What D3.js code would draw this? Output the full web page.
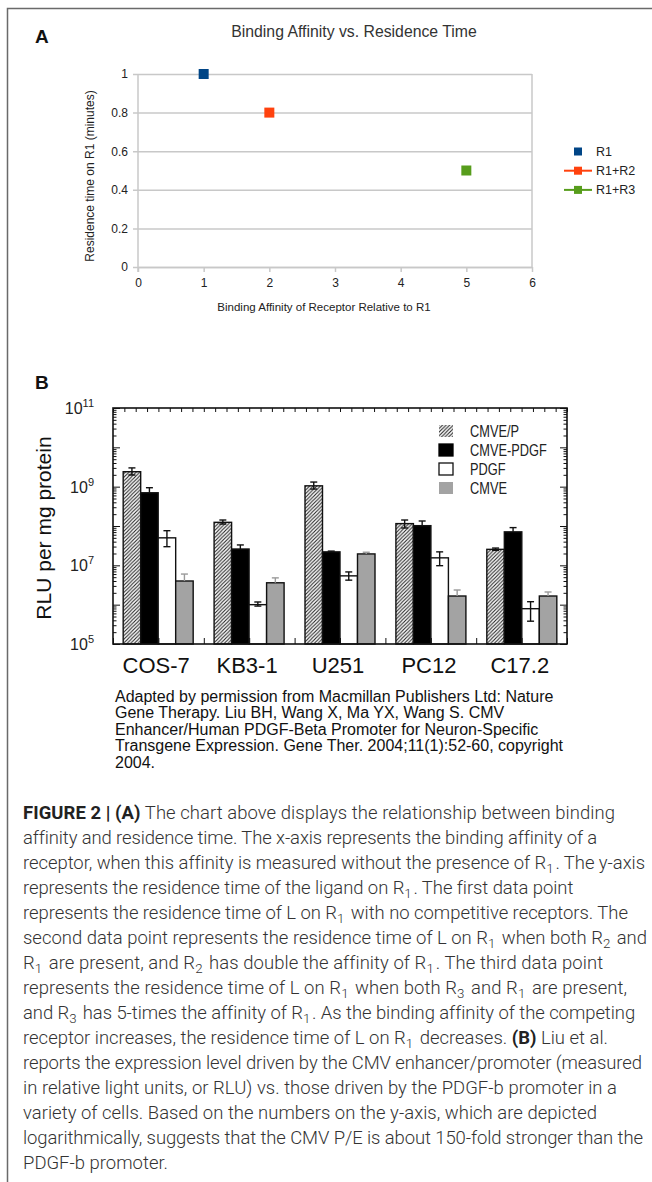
<!DOCTYPE html>
<html><head><meta charset="utf-8">
<script src="https://cdn.jsdelivr.net/npm/d3@7"></script>
<style>body{margin:0;background:#fff;} svg{display:block}</style>
</head><body>
<svg id="fig" width="652" height="1182"></svg>
<script>
// ---------- Panel A data ----------
const seriesA = ["R1", "R1+R2", "R1+R3"];
const affinityA = [1, 2, 5];
const residenceA = [1, 0.8, 0.5];
const colorsA = ["#004586", "#ff420e", "#579d1c"];
const xTicksA = [0, 1, 2, 3, 4, 5, 6];
const yTicksA = [0, 0.2, 0.4, 0.6, 0.8, 1];
const titleA = "Binding Affinity vs. Residence Time";
const xTitleA = "Binding Affinity of Receptor Relative to R1";
const yTitleA = "Residence time on R1 (minutes)";

// ---------- Panel B data ----------
const cellLines = ["COS-7", "KB3-1", "U251", "PC12", "C17.2"];
const constructs = ["CMVE/P", "CMVE-PDGF", "PDGF", "CMVE"];
const rluCMVEP     = [2.4e9, 1.24e8, 1.05e9, 1.15e8, 2.55e7];
const rluCMVEPDGF  = [7.0e8, 2.6e7, 2.2e7, 1.02e8, 7.1e7];
const rluPDGF      = [5.0e7, 1.0e6, 5.4e6, 1.55e7, 7.9e5];
const rluCMVE      = [4.0e6, 3.6e6, 1.95e7, 1.66e6, 1.66e6];
const errHiCMVEP    = [3.0e9, 1.42e8, 1.31e9, 1.42e8, 2.75e7];
const errLoCMVEP    = [1.98e9, 1.12e8, 8.7e8, 8.9e7, 2.4e7];
const errHiCMVEPDGF = [9.4e8, 3.3e7, 2.3e7, 1.34e8, 9.1e7];
const errHiPDGF     = [7.6e7, 1.17e6, 6.8e6, 2.2e7, 1.19e6];
const errLoPDGF     = [2.98e7, 9.2e5, 4.2e6, 9.8e6, 3.8e5];
const errHiCMVE     = [6.0e6, 4.8e6, 2.15e7, 2.36e6, 2.1e6];
const yTickExpB = [5, 7, 9, 11];

const sourceLines = [
  "Adapted by permission from Macmillan Publishers Ltd: Nature",
  "Gene Therapy. Liu BH, Wang X, Ma YX, Wang S. CMV",
  "Enhancer/Human PDGF-Beta Promoter for Neuron-Specific",
  "Transgene Expression. Gene Ther. 2004;11(1):52-60, copyright",
  "2004."
];
const captionLines = [
  "**FIGURE 2 | (A)** The chart above displays the relationship between binding",
  "affinity and residence time. The x-axis represents the binding affinity of a",
  "receptor, when this affinity is measured without the presence of R_1. The y-axis",
  "represents the residence time of the ligand on R_1. The first data point",
  "represents the residence time of L on R_1 with no competitive receptors. The",
  "second data point represents the residence time of L on R_1 when both R_2 and",
  "R_1 are present, and R_2 has double the affinity of R_1. The third data point",
  "represents the residence time of L on R_1 when both R_3 and R_1 are present,",
  "and R_3 has 5-times the affinity of R_1. As the binding affinity of the competing",
  "receptor increases, the residence time of L on R_1 decreases. **(B)** Liu et al.",
  "reports the expression level driven by the CMV enhancer/promoter (measured",
  "in relative light units, or RLU) vs. those driven by the PDGF-b promoter in a",
  "variety of cells. Based on the numbers on the y-axis, which are depicted",
  "logarithmically, suggests that the CMV P/E is about 150-fold stronger than the",
  "PDGF-b promoter."
];
// right edge of each caption line in the reference (layout, px)
const captionEnds = [615, 595, 644, 573, 628, 647, 602, 627, 633, 608, 642, 617, 597, 643, 168];

const svg = d3.select("#fig");
const SANS = "'Liberation Sans', Arial, sans-serif";

svg.append("path").attr("d", "M7.5,1182 V8.5 H652").attr("fill", "none")
  .attr("stroke", "#6a6a6a").attr("stroke-width", 1.5);

// ================= Panel A =================
svg.append("text").attr("x", 35).attr("y", 43).text("A")
  .attr("font-family", SANS).attr("font-weight", "bold").attr("font-size", 19).attr("fill", "#111");

const xA = d3.scaleLinear().domain([0, 6]).range([138, 532]);
const yA = d3.scaleLinear().domain([0, 1]).range([267, 74]);

svg.append("text").attr("x", 354).attr("y", 37).attr("text-anchor", "middle")
  .attr("font-family", SANS).attr("font-size", 15.8).attr("fill", "#333").text(titleA);

const gyA = svg.append("g").attr("transform", `translate(${xA(0)},0)`)
  .call(d3.axisLeft(yA).tickValues(yTicksA).tickFormat(d3.format("~g")).tickSizeInner(-(xA(6) - xA(0))).tickSizeOuter(0).tickPadding(10));
gyA.select(".domain").remove();
gyA.selectAll(".tick line").attr("stroke", "#c8c8c8").attr("stroke-width", 1.5).attr("x1", -5);
gyA.selectAll(".tick text").attr("font-family", SANS).attr("font-size", 12).attr("fill", "#222");

svg.append("line").attr("x1", xA(6)).attr("x2", xA(6)).attr("y1", yA(1)).attr("y2", yA(0))
  .attr("stroke", "#c8c8c8").attr("stroke-width", 1.5);
svg.append("line").attr("x1", xA(0)).attr("x2", xA(0)).attr("y1", yA(1)).attr("y2", yA(0) + 5)
  .attr("stroke", "#c8c8c8").attr("stroke-width", 1.5);

const gxA = svg.append("g").attr("transform", `translate(0,${yA(0)})`)
  .call(d3.axisBottom(xA).tickValues(xTicksA).tickFormat(d3.format("d")).tickSizeInner(5).tickSizeOuter(0).tickPadding(6));
gxA.select(".domain").attr("stroke", "#c8c8c8").attr("stroke-width", 1.5);
gxA.selectAll(".tick line").attr("stroke", "#c8c8c8").attr("stroke-width", 1.5);
gxA.selectAll(".tick text").attr("font-family", SANS).attr("font-size", 12).attr("fill", "#222");

svg.append("text").attr("x", 324).attr("y", 311).attr("text-anchor", "middle")
  .attr("font-family", SANS).attr("font-size", 11.5).attr("fill", "#222").text(xTitleA);
svg.append("text").attr("transform", "translate(94,176) rotate(-90)").attr("text-anchor", "middle")
  .attr("font-family", SANS).attr("font-size", 12).attr("fill", "#222").text(yTitleA);

svg.append("g").selectAll("rect").data(seriesA).join("rect")
  .attr("x", (d, i) => xA(affinityA[i]) - 5).attr("y", (d, i) => yA(residenceA[i]) - 5)
  .attr("width", 10).attr("height", 10).attr("fill", (d, i) => colorsA[i]);

const legA = svg.append("g");
seriesA.forEach((s, i) => {
  const y = 151.5 + i * 19.2;
  if (i > 0) legA.append("line").attr("x1", 564).attr("x2", 592).attr("y1", y).attr("y2", y)
    .attr("stroke", colorsA[i]).attr("stroke-width", 2);
  legA.append("rect").attr("x", 578 - 4).attr("y", y - 4).attr("width", 8).attr("height", 8).attr("fill", colorsA[i]);
  legA.append("text").attr("x", 596).attr("y", y + 4.5).attr("font-family", SANS).attr("font-size", 12.5)
    .attr("fill", "#222").text(s);
});

// ================= Panel B =================
svg.append("text").attr("x", 35).attr("y", 389).text("B")
  .attr("font-family", SANS).attr("font-weight", "bold").attr("font-size", 19).attr("fill", "#111");

const L = 113, R = 567, T = 408, Bt = 644;
const yB = d3.scaleLog().domain([1e5, 1e11]).range([Bt, T]);
const x0 = d3.scaleBand().domain(cellLines).range([L, R]).paddingInner(0.23).paddingOuter(0.112);
const x1 = d3.scaleBand().domain(constructs).range([0, x0.bandwidth()]).padding(0);

const defs = svg.append("defs");
const pat = defs.append("pattern").attr("id", "hatch").attr("patternUnits", "userSpaceOnUse")
  .attr("width", 3.6).attr("height", 3.6);
pat.append("rect").attr("width", 3.6).attr("height", 3.6).attr("fill", "#fff");
pat.append("path").attr("d", "M-0.9,0.9 L0.9,-0.9 M0,3.6 L3.6,0 M2.7,4.5 L4.5,2.7")
  .attr("stroke", "#222").attr("stroke-width", 1.1);

const fills = ["url(#hatch)", "#000", "#fff", "#a3a3a3"];
const values = [rluCMVEP, rluCMVEPDGF, rluPDGF, rluCMVE];
const errHi = [errHiCMVEP, errHiCMVEPDGF, errHiPDGF, errHiCMVE];
const errLo = [errLoCMVEP, null, errLoPDGF, null];
const errColor = ["#111", "#111", "#111", "#9a9a9a"];

const rows = [];
cellLines.forEach((c, ci) => constructs.forEach((k, ki) => rows.push({c, k, ci, ki,
  v: values[ki][ci], hi: errHi[ki][ci], lo: errLo[ki] ? errLo[ki][ci] : null})));

svg.append("g").selectAll("rect").data(rows).join("rect")
  .attr("x", d => x0(d.c) + x1(d.k)).attr("width", x1.bandwidth())
  .attr("y", d => yB(d.v)).attr("height", d => Bt - yB(d.v))
  .attr("fill", d => fills[d.ki]).attr("stroke", "#111").attr("stroke-width", 1.4);

const errG = svg.append("g");
rows.forEach(d => {
  const cx = x0(d.c) + x1(d.k) + x1.bandwidth() / 2;
  const col = errColor[d.ki];
  const lo = d.lo === null ? d.v : d.lo;
  errG.append("line").attr("x1", cx).attr("x2", cx).attr("y1", yB(d.hi)).attr("y2", yB(lo))
    .attr("stroke", col).attr("stroke-width", 1.4);
  const caps = d.lo === null ? [d.hi] : [d.hi, d.lo];
  caps.forEach(e => errG.append("line").attr("x1", cx - 3.5).attr("x2", cx + 3.5)
    .attr("y1", yB(e)).attr("y2", yB(e)).attr("stroke", col).attr("stroke-width", 1.4));
});

const majors = d3.range(5, 12).map(e => Math.pow(10, e));
const minors = [];
for (let e = 5; e < 11; e++) for (let m = 2; m <= 9; m++) minors.push(m * Math.pow(10, e));
function logAxis(xpos, dir) {
  const ax = (dir > 0 ? d3.axisRight(yB) : d3.axisLeft(yB));
  const g1 = svg.append("g").attr("transform", `translate(${xpos},0)`)
    .call(ax.tickValues(majors).tickSizeInner(7).tickSizeOuter(0).tickFormat(""));
  g1.select(".domain").remove();
  const ax2 = (dir > 0 ? d3.axisRight(yB) : d3.axisLeft(yB));
  const g2 = svg.append("g").attr("transform", `translate(${xpos},0)`)
    .call(ax2.tickValues(minors).tickSizeInner(3.5).tickSizeOuter(0).tickFormat(""));
  g2.select(".domain").remove();
  [g1, g2].forEach(g => g.selectAll("line").attr("stroke", "#111").attr("stroke-width", 1));
}
logAxis(L, 1);
logAxis(R, -1);

const xFrame = d3.scaleLinear().domain([0, 40]).range([L, R]);
const gTop = svg.append("g").attr("transform", `translate(0,${T})`)
  .call(d3.axisBottom(xFrame).ticks(40).tickSizeInner(4).tickSizeOuter(0).tickFormat(""));
gTop.select(".domain").remove();
gTop.selectAll("line").attr("stroke", "#111");
const gBot = svg.append("g").attr("transform", `translate(0,${Bt})`)
  .call(d3.axisTop(xFrame).tickValues(d3.range(0, 41, 4)).tickSizeInner(6).tickSizeOuter(0).tickFormat(""));
gBot.select(".domain").remove();
gBot.selectAll("line").attr("stroke", "#111");

svg.append("rect").attr("x", L).attr("y", T).attr("width", R - L).attr("height", Bt - T)
  .attr("fill", "none").attr("stroke", "#111").attr("stroke-width", 1.6);

yTickExpB.forEach(e => {
  const t = svg.append("text").attr("x", 94).attr("y", yB(Math.pow(10, e)) + 6).attr("text-anchor", "end")
    .attr("font-family", SANS).attr("font-size", 16).attr("fill", "#222");
  t.append("tspan").text("10");
  t.append("tspan").attr("dy", -7).attr("font-size", 11).text(String(e));
});
svg.append("text").attr("transform", `translate(51,528) rotate(-90)`).attr("text-anchor", "middle")
  .attr("font-family", SANS).attr("font-size", 21).attr("fill", "#111").text("RLU per mg protein");

svg.append("g").selectAll("text").data(cellLines).join("text")
  .attr("x", d => x0(d) + x0.bandwidth() / 2 - 2).attr("y", 673).attr("text-anchor", "middle")
  .attr("font-family", SANS).attr("font-size", 22).attr("fill", "#111").text(d => d);

const legFills = ["url(#hatch)", "#000", "#fff", "#a3a3a3"];
const legStroke = ["none", "#000", "#111", "none"];
constructs.forEach((k, i) => {
  const cy = 431 + i * 19;
  svg.append("rect").attr("x", 439).attr("y", cy - 6).attr("width", 14).attr("height", 12)
    .attr("fill", legFills[i]).attr("stroke", legStroke[i]).attr("stroke-width", 1.3);
  svg.append("text").attr("transform", `translate(470,${cy + 5.5}) scale(0.8,1)`)
    .attr("font-family", SANS).attr("font-size", 16).attr("fill", "#222").text(k);
});

svg.append("g").selectAll("text").data(sourceLines).join("text")
  .attr("x", 115).attr("y", (d, i) => 701.5 + i * 16.6)
  .attr("font-family", SANS).attr("font-size", 16).attr("fill", "#111").text(d => d);

// caption
const CAP = "Roboto, 'Open Sans', sans-serif";
const capG = svg.append("g").attr("font-family", CAP).attr("font-weight", 300).attr("fill", "#333");
const X0 = 23;
function addLine(str, y, fs) {
  const t = capG.append("text").attr("x", X0).attr("y", y).attr("font-size", fs);
  const parts = str.split(/(\*\*[^*]+\*\*|_\d)/).filter(p => p.length);
  parts.forEach(p => {
    if (p.startsWith("**")) t.append("tspan").attr("font-weight", 700).attr("fill", "#222").text(p.slice(2, -2));
    else if (p.startsWith("_")) {
      t.append("tspan").attr("dy", 4).attr("font-size", fs * 0.72).text(p.slice(1));
      t.append("tspan").attr("dy", -4).text("\u200A");
    } else t.append("tspan").text(p);
  });
  return t;
}
let fs = 19;
const ratios = captionLines.map((l, i) => {
  const p = addLine(l, -100, fs); const w = p.node().getComputedTextLength(); p.remove();
  return (captionEnds[i] - X0) / w;
});
fs = fs * d3.median(ratios);
captionLines.forEach((l, i) => {
  const t = addLine(l, 819 + i * 25, fs);
  const w = t.node().getComputedTextLength();
  const n = t.node().getNumberOfChars();
  const ls = (captionEnds[i] - X0 - w) / Math.max(1, n - 1);
  t.attr("letter-spacing", ls.toFixed(3));
});
</script>
</body></html>
